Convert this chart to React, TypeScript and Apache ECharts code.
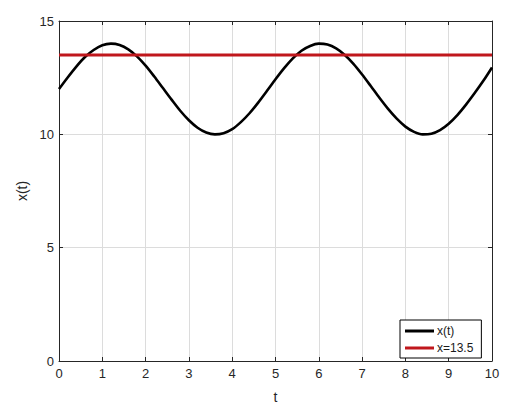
import React, { useEffect, useRef } from "react";
import * as echarts from "echarts";

const tValues = [0, 0.2, 0.4, 0.6, 0.8, 1.0, 1.2, 1.4, 1.6, 1.8, 2.0, 2.2, 2.4, 2.6, 2.8, 3.0, 3.2, 3.4, 3.6, 3.8, 4.0, 4.2, 4.4, 4.6, 4.8, 5.0, 5.2, 5.4, 5.6, 5.8, 6.0, 6.2, 6.4, 6.6, 6.8, 7.0, 7.2, 7.4, 7.6, 7.8, 8.0, 8.2, 8.4, 8.6, 8.8, 9.0, 9.2, 9.4, 9.6, 9.8, 10.0];
const xValues = [12.0, 12.51, 12.99, 13.41, 13.72, 13.93, 14.0, 13.94, 13.75, 13.44, 13.03, 12.55, 12.04, 11.53, 11.04, 10.62, 10.29, 10.08, 10.0, 10.05, 10.23, 10.54, 10.93, 11.4, 11.91, 12.43, 12.92, 13.35, 13.69, 13.9, 14.0, 13.96, 13.79, 13.5, 13.11, 12.64, 12.13, 11.61, 11.12, 10.69, 10.34, 10.11, 10.0, 10.03, 10.19, 10.47, 10.85, 11.31, 11.82, 12.36, 12.95];
const thresholdValue = 13.5;
const thresholdT = [0, 10];
const seriesNames = ["x(t)", "x=13.5"];
const xTicks = [0, 1, 2, 3, 4, 5, 6, 7, 8, 9, 10];
const yTicks = [0, 5, 10, 15];

const FONT = "'Liberation Sans', Arial, sans-serif";
const AXIS = "#262626";

export default function App() {
  const ref = useRef<HTMLDivElement>(null);
  useEffect(() => {
    if (!ref.current) return;
    const chart = echarts.init(ref.current, null, { renderer: "svg" });
    const curve = tValues.map((t, i) => [t, xValues[i]]);
    const thr = thresholdT.map((t) => [t, thresholdValue]);
    const baseX = {
      type: "value" as const,
      min: xTicks[0],
      max: xTicks[xTicks.length - 1],
      interval: 1,
    };
    const baseY = {
      type: "value" as const,
      min: yTicks[0],
      max: yTicks[yTicks.length - 1],
      interval: 5,
    };
    chart.setOption({
      animation: false,
      backgroundColor: "#ffffff",
      grid: { left: 59, top: 21, right: 26, bottom: 46, containLabel: false },
      legend: {
        data: seriesNames,
        orient: "vertical",
        left: 400,
        top: 320,
        width: 78,
        itemWidth: 29,
        itemHeight: 3,
        itemGap: 5,
        padding: [5, 8, 4, 5],
        borderColor: "#000",
        borderWidth: 1,
        backgroundColor: "#fff",
        icon: "rect",
        textStyle: { fontFamily: FONT, fontSize: 12, color: "#1a1a1a", padding: [0, 0, 0, -2] },
      },
      xAxis: [
        {
          ...baseX,
          position: "bottom",
          name: "t",
          nameLocation: "middle",
          nameGap: 29,
          nameTextStyle: { fontFamily: FONT, fontSize: 14, color: AXIS },
          axisLine: { show: true, onZero: false, lineStyle: { color: AXIS, width: 1 } },
          axisTick: { show: true, inside: true, length: 4, lineStyle: { color: AXIS } },
          axisLabel: { fontFamily: FONT, fontSize: 13, color: AXIS, margin: 6 },
          splitLine: { show: true, lineStyle: { color: "#dcdcdc", width: 1 } },
        },
        {
          ...baseX,
          position: "top",
          axisLine: { show: true, onZero: false, lineStyle: { color: AXIS, width: 1 } },
          axisTick: { show: true, inside: true, length: 4, lineStyle: { color: AXIS } },
          axisLabel: { show: false },
          splitLine: { show: false },
        },
      ],
      yAxis: [
        {
          ...baseY,
          position: "left",
          name: "x(t)",
          nameLocation: "middle",
          nameGap: 23,
          nameRotate: 90,
          nameTextStyle: { fontFamily: FONT, fontSize: 14, color: AXIS },
          axisLine: { show: true, onZero: false, lineStyle: { color: AXIS, width: 1 } },
          axisTick: { show: true, inside: true, length: 4, lineStyle: { color: AXIS } },
          axisLabel: { fontFamily: FONT, fontSize: 13, color: AXIS, margin: 5 },
          splitLine: { show: true, lineStyle: { color: "#dcdcdc", width: 1 } },
        },
        {
          ...baseY,
          position: "right",
          axisLine: { show: true, onZero: false, lineStyle: { color: AXIS, width: 1 } },
          axisTick: { show: true, inside: true, length: 4, lineStyle: { color: AXIS } },
          axisLabel: { show: false },
          splitLine: { show: false },
        },
      ],
      series: [
        {
          name: seriesNames[0],
          type: "line",
          data: curve,
          xAxisIndex: 0,
          yAxisIndex: 0,
          smooth: 0.3,
          showSymbol: false,
          symbol: "none",
          color: "#000000",
          lineStyle: { color: "#000000", width: 2.6 },
          z: 3,
        },
        {
          name: seriesNames[1],
          type: "line",
          data: thr,
          xAxisIndex: 0,
          yAxisIndex: 0,
          showSymbol: false,
          symbol: "none",
          color: "#c0171c",
          lineStyle: { color: "#c0171c", width: 3 },
          z: 4,
        },
      ],
    });
    return () => chart.dispose();
  }, []);
  return <div ref={ref} style={{ width: 518, height: 409, position: "absolute", left: 0, top: 0 }} />;
}
